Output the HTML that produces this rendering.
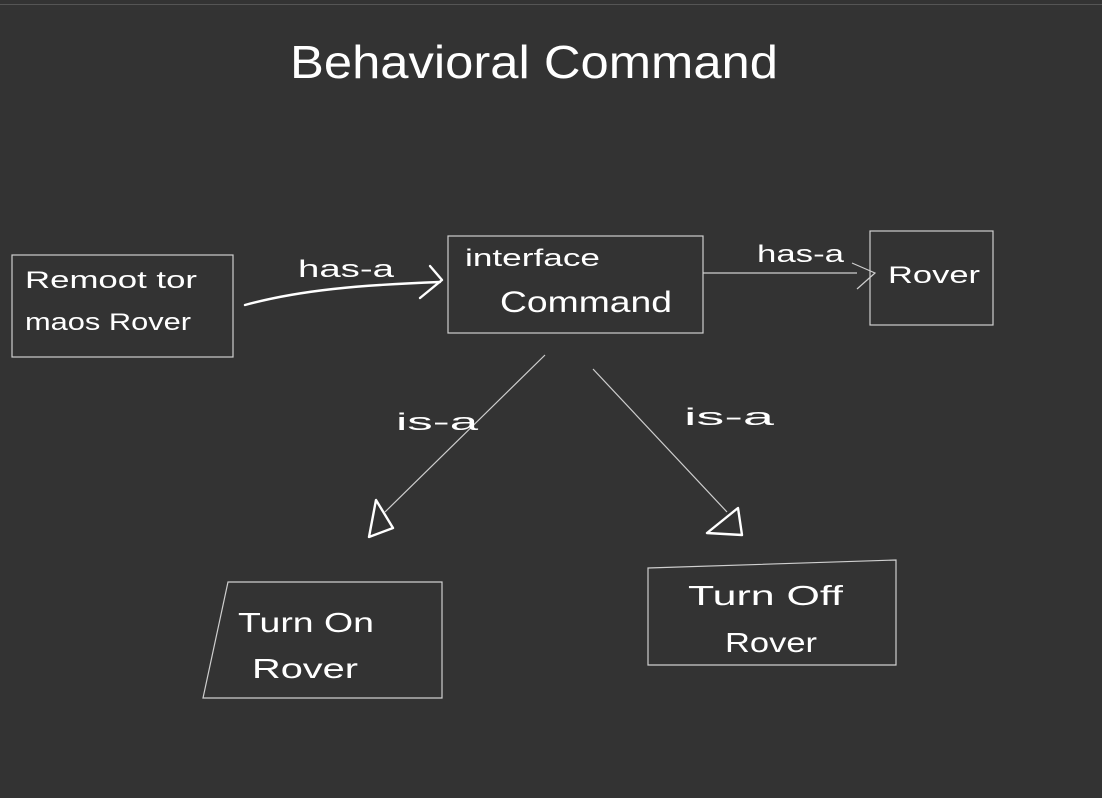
<!DOCTYPE html>
<html><head><meta charset="utf-8"><style>
html,body{margin:0;padding:0;background:#333333;}
svg{display:block;}
text{font-family:"Liberation Sans",sans-serif;fill:#fff;}
</style></head><body>
<svg width="1102" height="798" viewBox="0 0 1102 798" xmlns="http://www.w3.org/2000/svg">
<rect width="1102" height="798" fill="#333333"/>
<line x1="0" y1="4.5" x2="1102" y2="4.5" stroke="#555" stroke-width="1"/>
<text x="290" y="78" font-size="46" textLength="488" lengthAdjust="spacingAndGlyphs">Behavioral   Command</text>

<g fill="none" stroke="#cfcfcf" stroke-width="1.2">
<rect x="12" y="255" width="221" height="102"/>
<rect x="448" y="236" width="255" height="97"/>
<rect x="870" y="231" width="123" height="94"/>
<polygon points="228,582 442,582 442,698 203,698"/>
<polygon points="648,568 896,560 896,665 648,665"/>
<line x1="703" y1="273" x2="857" y2="273"/>
<polyline points="852,263 875,273 857,289"/>
<line x1="545" y1="355" x2="385" y2="512"/>
<line x1="593" y1="369" x2="727" y2="512"/>
</g>
<g fill="none" stroke="#fff" stroke-width="2.4" stroke-linecap="round" stroke-linejoin="round">
<path d="M245,305 C300,290 360,285 440,282"/>
<path d="M430,266 L442,280 L420,298"/>
<path d="M376,500 L369,537 L393,528 Z"/>
<path d="M738,508 L707,533 L742,535 Z"/>
</g>
<g font-size="24">
<text x="25" y="288" textLength="172" lengthAdjust="spacingAndGlyphs">Remoot  tor</text>
<text x="25" y="330" textLength="166" lengthAdjust="spacingAndGlyphs">maos Rover</text>
<text x="298" y="277" textLength="96" lengthAdjust="spacingAndGlyphs">has-a</text>
<text x="465" y="266" textLength="135" lengthAdjust="spacingAndGlyphs">interface</text>
<text x="500" y="312" font-size="30" textLength="172" lengthAdjust="spacingAndGlyphs">Command</text>
<text x="757" y="262" textLength="87" lengthAdjust="spacingAndGlyphs">has-a</text>
<text x="888" y="283" textLength="92" lengthAdjust="spacingAndGlyphs">Rover</text>
<text x="396" y="430" textLength="82" lengthAdjust="spacingAndGlyphs">is-a</text>
<text x="684" y="425" textLength="90" lengthAdjust="spacingAndGlyphs">is-a</text>
<text x="238" y="632" font-size="28" textLength="136" lengthAdjust="spacingAndGlyphs">Turn On</text>
<text x="252" y="678" font-size="28" textLength="106" lengthAdjust="spacingAndGlyphs">Rover</text>
<text x="688" y="605" font-size="28" textLength="155" lengthAdjust="spacingAndGlyphs">Turn Off</text>
<text x="725" y="652" font-size="28" textLength="92" lengthAdjust="spacingAndGlyphs">Rover</text>
</g>
</svg>
</body></html>
